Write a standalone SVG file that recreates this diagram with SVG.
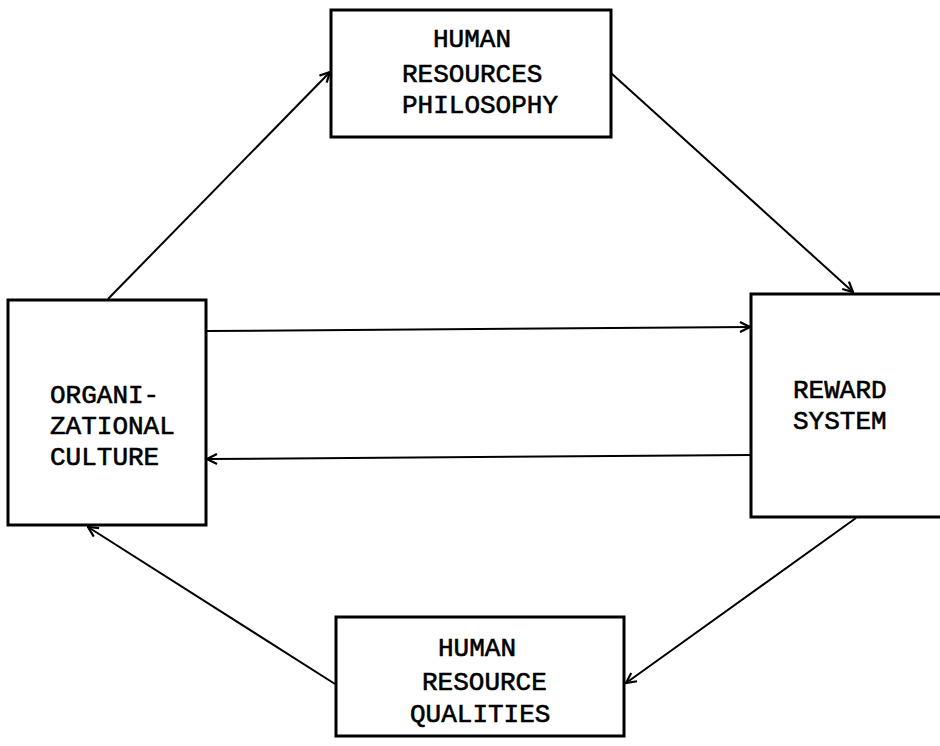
<svg xmlns="http://www.w3.org/2000/svg" width="940" height="746" viewBox="0 0 940 746">
<style>
.box{fill:#fff;stroke:#000;stroke-width:3}
.con{fill:none;stroke:#000;stroke-width:2}
text{font-family:"Liberation Mono","Courier New",monospace;font-size:26px;fill:#000;stroke:#000;stroke-width:0.6}
</style>
<defs>
<marker id="ah" viewBox="0 0 12 12" refX="11" refY="6" markerWidth="12" markerHeight="12" markerUnits="userSpaceOnUse" orient="auto">
<path d="M1,1 L11,6 L1,11" fill="none" stroke="#000" stroke-width="2.2"/>
</marker>
</defs>
<rect width="940" height="746" fill="#fff"/>
<g id="connectors">
<line class="con" x1="108" y1="299" x2="330" y2="72" marker-end="url(#ah)"/>
<line class="con" x1="611" y1="73" x2="853" y2="292" marker-end="url(#ah)"/>
<line class="con" x1="206" y1="331" x2="750" y2="327" marker-end="url(#ah)"/>
<line class="con" x1="751" y1="455" x2="207" y2="459" marker-end="url(#ah)"/>
<line class="con" x1="856" y1="518" x2="626" y2="683" marker-end="url(#ah)"/>
<line class="con" x1="335" y1="684" x2="88" y2="527" marker-end="url(#ah)"/>
</g>
<g id="hr-philosophy">
<rect class="box" x="331" y="10" width="280" height="127"/>
<text x="433" y="47">HUMAN</text>
<text x="402" y="82">RESOURCES</text>
<text x="402" y="113">PHILOSOPHY</text>
</g>
<g id="org-culture">
<rect class="box" x="8" y="300" width="198" height="225"/>
<text x="50" y="403">ORGANI-</text>
<text x="50" y="434">ZATIONAL</text>
<text x="50" y="465">CULTURE</text>
</g>
<g id="reward-system">
<path class="box" d="M945,294 L751,294 L751,517 L945,517"/>
<text x="793" y="398">REWARD</text>
<text x="793" y="429">SYSTEM</text>
</g>
<g id="hr-qualities">
<rect class="box" x="336" y="617" width="288" height="119"/>
<text x="438" y="656">HUMAN</text>
<text x="422" y="690">RESOURCE</text>
<text x="410" y="722">QUALITIES</text>
</g>
</svg>
